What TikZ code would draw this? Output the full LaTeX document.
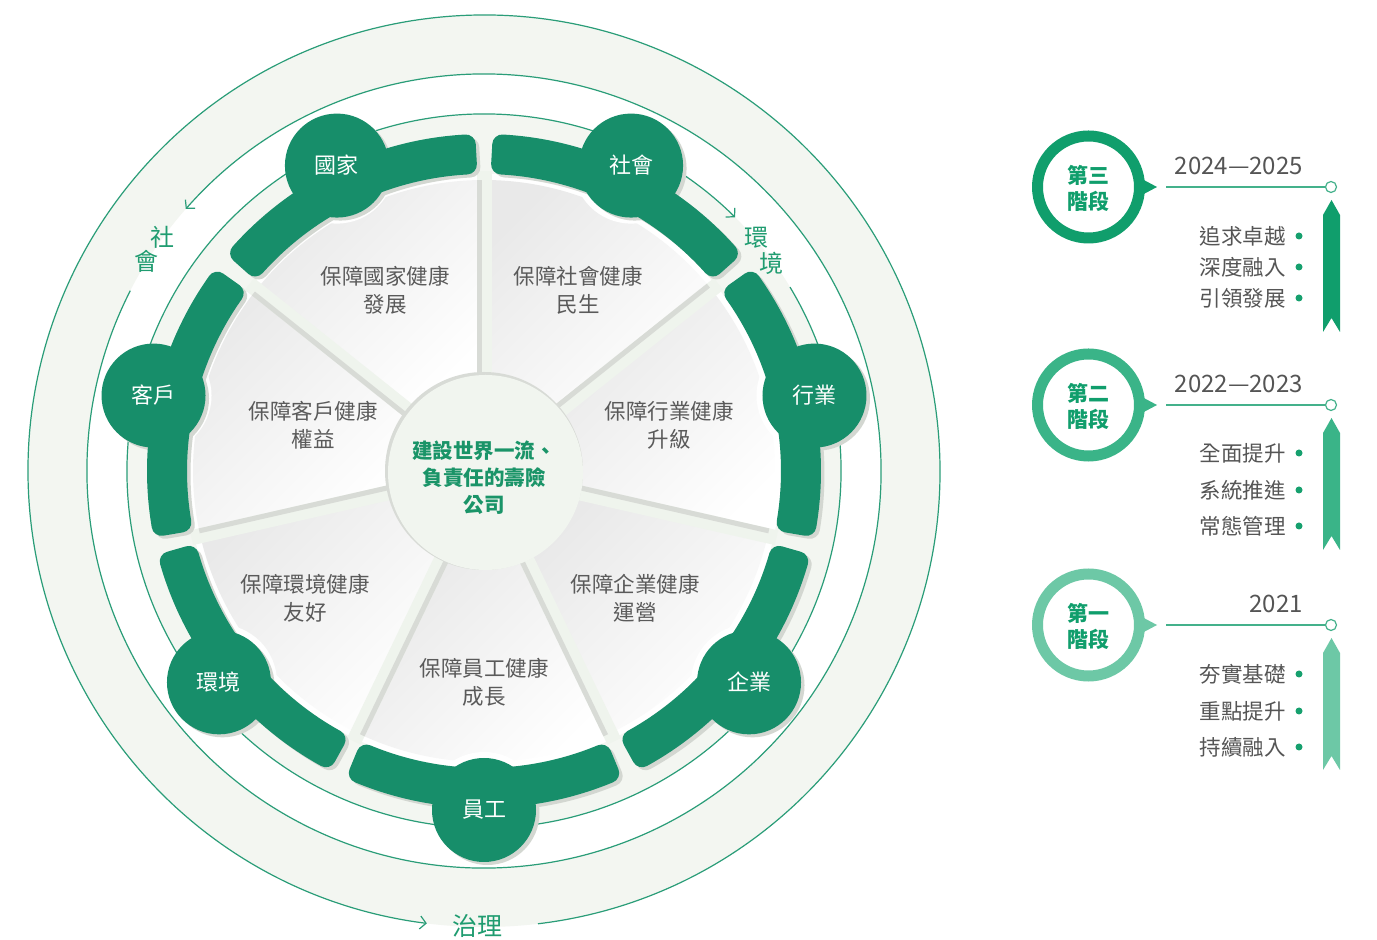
\documentclass[tikz,border=0pt]{standalone}
\usepackage{fontspec}
\setmainfont{Noto Sans CJK TC}
\usetikzlibrary{arrows.meta,calc}
\definecolor{lightbg}{HTML}{F3F6F1}
\definecolor{thinline}{HTML}{2A9D78}
\definecolor{labelgreen}{HTML}{1F9C70}
\definecolor{ringgreen}{HTML}{178E6A}
\definecolor{shadowgray}{HTML}{D3D7D1}
\definecolor{sectgray}{HTML}{E9E9E9}
\definecolor{strip}{HTML}{EFF4ED}
\definecolor{stripgray}{HTML}{D8DBD6}
\definecolor{centerfill}{HTML}{F1F5EF}
\definecolor{centertext}{HTML}{1A9468}
\definecolor{textgray}{HTML}{5A5A5A}
\definecolor{sthree}{HTML}{109E6C}
\definecolor{stwo}{HTML}{3AB488}
\definecolor{sone}{HTML}{6DC8A6}
\definecolor{dotgreen}{HTML}{16A06E}
\definecolor{yeargray}{HTML}{555555}
\definecolor{legline}{HTML}{44B18B}
\tikzset{
  thinarc/.style={thinline, line width=1.2pt, -{Straight Barb[length=6pt,width=13pt]}},
  circlabel/.style={labelgreen, font=\fontsize{24}{24}\selectfont, inner sep=0pt},
  secttext/.style={textgray, font=\fontsize{21.5}{28}\selectfont, align=center, inner sep=0pt},
  nodetext/.style={white, font=\fontsize{22}{22}\selectfont, inner sep=0pt},
  stagetext/.style={sthree, font=\bfseries\fontsize{21}{26}\selectfont, align=center, inner sep=0pt},
  yeartext/.style={yeargray, font=\fontsize{24}{24}\selectfont, anchor=east, inner sep=0pt},
  itemtext/.style={yeargray, font=\fontsize{21.5}{22}\selectfont, anchor=east, inner sep=0pt},
}
\begin{document}
\begin{tikzpicture}[x=1pt,y=1pt]
\useasboundingbox (0,0) rectangle (1377,940);
\fill[white] (0,0) rectangle (1377,940);
\begin{scope}[shift={(484,469)}]
  % bands
  \fill[lightbg, even odd rule] (0,0) circle (456) (0,0) circle (397);
  \fill[lightbg] (0,0) circle (357);
  \fill[white] (0,0) circle (297);
  % thin circles with arrows
  \draw[thinarc] (276.8:456) arc[start angle=276.8, end angle=622.8, radius=456];
  \draw[thinarc] (153:397) arc[start angle=153, end angle=498.7, radius=397];
  \draw[thinarc] (31:357) arc[start angle=31, end angle=-314.7, radius=357];
  \node[circlabel] (lsha) at (-321.5,233.5) {社};
  \node[circlabel] (lshb) at (-338,210) {會};
  \node[circlabel] (lhja) at (272,233.5) {環};
  \node[circlabel] (lhjb) at (287,208) {境};
  \node[circlabel, font=\fontsize{25}{25}\selectfont] (lzl) at (-6.5,-455) {治理};
  % pie sectors
  \foreach \k in {0,...,6}{
    \pgfmathsetmacro\sa{90-51.4286*(\k+1)}
    \pgfmathsetmacro\sb{90-51.4286*\k}
    \shade[top color=sectgray, bottom color=white, shading angle=45]
      (\sa:97) -- (\sa:291) arc[start angle=\sa, end angle=\sb, radius=291]
      -- (\sb:97) arc[start angle=\sb, end angle=\sa, radius=97] -- cycle;
  }
  % divider strips
  \foreach \a/\s in {90/1, 38.5714/1, -12.8571/1, -64.2857/-1, -115.7143/1, -167.1429/-1, 141.4286/1}{
    \pgfmathsetmacro\p{\a+90*\s}
    \draw[strip, line width=15pt] (\a:90) -- (\a:300);
    \draw[stripgray, line width=5pt] ($(\a:90)+(\p:5)$) -- ($(\a:291)+(\p:5)$);
  }
  % halos around nodes on pie
  \begin{scope}
    \clip (0,0) circle (296);
    \foreach \k in {0,...,6}{
      \pgfmathsetmacro\ca{90-51.4286*(\k+0.5)}
      \fill[white] (\ca:339) circle (58);
    }
  \end{scope}
  % shadows
  \foreach \k in {0,...,6}{
    \pgfmathsetmacro\ca{90-51.4286*(\k+0.5)}
    \pgfmathsetmacro\aa{\ca+25.7143-3.2}
    \pgfmathsetmacro\bb{\ca-25.7143+3.2}
    \begin{scope}[shift={(3.5,-3)}]
      \filldraw[shadowgray, line width=20pt, line join=round]
        (\aa:327) arc[start angle=\aa, end angle=\bb, radius=327]
        -- (\bb:307) arc[start angle=\bb, end angle=\aa, radius=307] -- cycle;
      \fill[shadowgray] (\ca:339) circle (52);
    \end{scope}
  }
  % ring arcs and nodes
  \foreach \k/\lab/\nm in {0/社會/nsh, 1/行業/nhy, 2/企業/nqy, 3/員工/nyg, 4/環境/nhj, 5/客戶/nkh, 6/國家/ngj}{
    \pgfmathsetmacro\ca{90-51.4286*(\k+0.5)}
    \pgfmathsetmacro\aa{\ca+25.7143-3.2}
    \pgfmathsetmacro\bb{\ca-25.7143+3.2}
    \filldraw[ringgreen, line width=20pt, line join=round]
      (\aa:327) arc[start angle=\aa, end angle=\bb, radius=327]
      -- (\bb:307) arc[start angle=\bb, end angle=\aa, radius=307] -- cycle;
    \fill[ringgreen] (\ca:339) circle (52);
    \node[nodetext] (\nm) at (\ca:339) {\lab};
  }
  % center disk
  \fill[stripgray] (0,0) circle (99);
  \fill[centerfill] (1.5,-1.5) circle (97.5);
  \node[centertext, font=\bfseries\fontsize{20.5}{27}\selectfont, align=center, inner sep=0pt] (ctr) at (0,-7) {建設世界一流、\\負責任的壽險\\公司};
  % sector texts
  \node[secttext] (tgj) at (-99,181) {保障國家健康\\發展};
  \node[secttext] (tsh) at (94,181) {保障社會健康\\民生};
  \node[secttext] (thy) at (185,46) {保障行業健康\\升級};
  \node[secttext] (tqy) at (151,-127) {保障企業健康\\運營};
  \node[secttext] (tyg) at (0,-211) {保障員工健康\\成長};
  \node[secttext] (thj) at (-179,-127) {保障環境健康\\友好};
  \node[secttext] (tkh) at (-171,46) {保障客戶健康\\權益};
\end{scope}
% legend
\begin{scope}[shift={(0,940)}, yscale=-1]
  \foreach \cy/\col/\lab/\yr/\ia/\ib/\ic/\ra/\rb/\rc/\nm in {
      187/sthree/第三/2024—2025/追求卓越/深度融入/引領發展/236/267/298/c,
      405/stwo/第二/2022—2023/全面提升/系統推進/常態管理/453/490/526/b,
      625/sone/第一/2021/夯實基礎/重點提升/持續融入/674/711/747/a}{
    \draw[\col, line width=11pt] (1088.5,\cy) circle (51);
    \fill[\col] (1141,\cy-8.5) -- (1157,\cy) -- (1141,\cy+8.5) -- cycle;
    \node[stagetext] (st\nm) at (1088.5,\cy+1) {\lab\\階段};
    \coordinate (ls\nm) at (1166,\cy);
    \node[circle, draw=legline, fill=white, line width=1.2pt, minimum size=11pt, inner sep=0pt] (dot\nm) at (1331,\cy) {};
    \draw[legline, line width=1.2pt] (ls\nm) -- (dot\nm);
    \node[yeartext] (yr\nm) at (1303,\cy-21) {\yr};
    \fill[\col] (1323,\cy+28) -- (1331.5,\cy+13) -- (1340,\cy+28) -- (1340,\cy+145) -- (1331.5,\cy+131) -- (1323,\cy+145) -- cycle;
    \node[itemtext] (ia\nm) at (1286,\ra) {\ia};
    \node[itemtext] (ib\nm) at (1286,\rb) {\ib};
    \node[itemtext] (ic\nm) at (1286,\rc) {\ic};
    \fill[dotgreen] (1299,\ra) circle (3.5);
    \fill[dotgreen] (1299,\rb) circle (3.5);
    \fill[dotgreen] (1299,\rc) circle (3.5);
  }
\end{scope}
\end{tikzpicture}
\end{document}
